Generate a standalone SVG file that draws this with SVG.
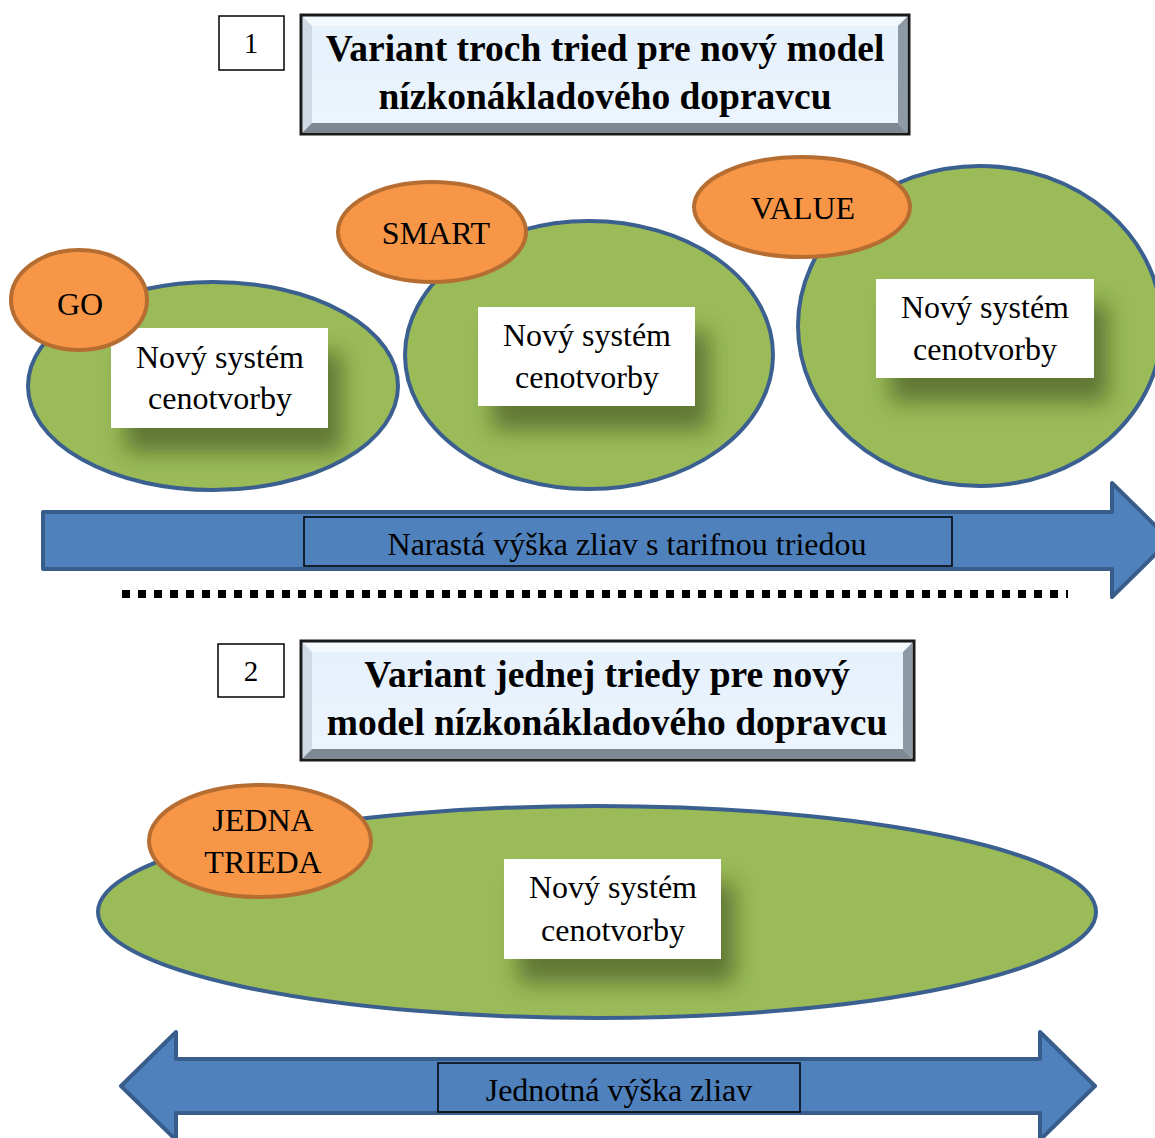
<svg xmlns="http://www.w3.org/2000/svg" width="1155" height="1138" viewBox="0 0 1155 1138">
<defs>
<style>
.t{font-family:"Liberation Serif","Times New Roman",serif;fill:#000}
.title{font-size:37.5px;font-weight:bold;text-anchor:middle}
.num{font-size:29px;text-anchor:middle}
.lbl{font-size:32px;text-anchor:middle}
.ctr{font-size:32px;text-anchor:middle}
.green{fill:#9bbb59;stroke:#3b5f8f;stroke-width:4}
.orange{fill:#f79646;stroke:#b66d31;stroke-width:4}
.wbox{fill:#fff}
.arrow{fill:#4f81bd;stroke:#385d8a;stroke-width:4;stroke-linejoin:round}
.abox{fill:none;stroke:#000;stroke-width:1.5}
.nbox{fill:#fff;stroke:#000;stroke-width:1.5}
</style>
<linearGradient id="tg" x1="0" y1="0" x2="0" y2="1">
<stop offset="0" stop-color="#e4f0fb"/>
<stop offset="1" stop-color="#edf5fd"/>
</linearGradient>
<filter id="sh" x="-30%" y="-30%" width="170%" height="190%">
<feGaussianBlur in="SourceAlpha" stdDeviation="11"/>
<feOffset dx="14" dy="24" result="b"/>
<feFlood flood-color="#2f3f14" flood-opacity="0.55"/>
<feComposite in2="b" operator="in" result="s"/>
<feMerge><feMergeNode in="s"/><feMergeNode in="SourceGraphic"/></feMerge>
</filter>
<clipPath id="c1"><ellipse cx="213" cy="386" rx="183" ry="102"/></clipPath>
<clipPath id="c2"><ellipse cx="589" cy="355" rx="182" ry="132"/></clipPath>
<clipPath id="c3"><ellipse cx="980" cy="326" rx="180" ry="158"/></clipPath>
<clipPath id="c4"><ellipse cx="597" cy="912" rx="497" ry="104"/></clipPath>
</defs>

<g id="title1">
<rect x="301" y="15" width="608" height="119" fill="url(#tg)" stroke="#1a1a1a" stroke-width="3"/>
<polygon points="303,17 907,17 898,26 312,26" fill="#f4f9fd"/>
<polygon points="303,17 312,26 312,123 303,132" fill="#cfd9e3"/>
<polygon points="907,17 907,132 898,123 898,26" fill="#8d99a5"/>
<polygon points="303,132 312,123 898,123 907,132" fill="#7d8893"/>
<text class="t title" x="605" y="61">Variant troch tried pre nový model</text>
<text class="t title" x="605" y="109">nízkonákladového dopravcu</text>
</g>
<g id="num1">
<rect class="nbox" x="219" y="16" width="65" height="54"/>
<text class="t num" x="251" y="53">1</text>
</g>

<g id="go">
<ellipse class="green" cx="213" cy="386" rx="185" ry="104"/>
<g clip-path="url(#c1)"><rect class="wbox" x="111" y="328" width="217" height="100" filter="url(#sh)"/></g>
<rect class="wbox" x="111" y="328" width="217" height="100"/>
<text class="t ctr" x="220" y="368">Nový systém</text>
<text class="t ctr" x="220" y="409">cenotvorby</text>
<ellipse class="orange" cx="79" cy="300" rx="68" ry="50"/>
<text class="t lbl" x="80" y="315">GO</text>
</g>

<g id="smart">
<ellipse class="green" cx="589" cy="355" rx="184" ry="134"/>
<g clip-path="url(#c2)"><rect class="wbox" x="478" y="307" width="217" height="99" filter="url(#sh)"/></g>
<rect class="wbox" x="478" y="307" width="217" height="99"/>
<text class="t ctr" x="587" y="346">Nový systém</text>
<text class="t ctr" x="587" y="388">cenotvorby</text>
<ellipse class="orange" cx="432" cy="232" rx="94" ry="50"/>
<text class="t lbl" x="436" y="244">SMART</text>
</g>

<g id="value">
<ellipse class="green" cx="980" cy="326" rx="182" ry="160"/>
<g clip-path="url(#c3)"><rect class="wbox" x="876" y="279" width="218" height="99" filter="url(#sh)"/></g>
<rect class="wbox" x="876" y="279" width="218" height="99"/>
<text class="t ctr" x="985" y="318">Nový systém</text>
<text class="t ctr" x="985" y="360">cenotvorby</text>
<ellipse class="orange" cx="802" cy="207" rx="108" ry="50"/>
<text class="t lbl" x="803" y="219">VALUE</text>
</g>

<g id="connectors">
<polygon class="arrow" points="43,512 1112,512 1112,483 1170,540 1112,597 1112,569 43,569"/>
<rect class="abox" x="304" y="517" width="648" height="49"/>
<text class="t lbl" x="627" y="555">Narastá výška zliav s tarifnou triedou</text>
<line x1="122" y1="594" x2="1068" y2="594" stroke="#000" stroke-width="8" stroke-dasharray="8 8"/>
<polygon class="arrow" points="121,1086 176,1032 176,1059 1040,1059 1040,1032 1095,1086 1040,1140 1040,1113 176,1113 176,1140"/>
<rect class="abox" x="438" y="1063" width="362" height="49"/>
<text class="t lbl" x="619" y="1101">Jednotná výška zliav</text>
</g>

<g id="title2">
<rect x="301" y="641" width="613" height="119" fill="url(#tg)" stroke="#1a1a1a" stroke-width="3"/>
<polygon points="303,643 912,643 903,652 312,652" fill="#f4f9fd"/>
<polygon points="303,643 312,652 312,749 303,758" fill="#cfd9e3"/>
<polygon points="912,643 912,758 903,749 903,652" fill="#8d99a5"/>
<polygon points="303,758 312,749 903,749 912,758" fill="#7d8893"/>
<text class="t title" x="607" y="687">Variant jednej triedy pre nový</text>
<text class="t title" x="607" y="735">model nízkonákladového dopravcu</text>
</g>
<g id="num2">
<rect class="nbox" x="218" y="644" width="66" height="53"/>
<text class="t num" x="251" y="681">2</text>
</g>

<g id="jedna">
<ellipse class="green" cx="597" cy="912" rx="499" ry="106"/>
<g clip-path="url(#c4)"><rect class="wbox" x="504" y="859" width="217" height="100" filter="url(#sh)"/></g>
<rect class="wbox" x="504" y="859" width="217" height="100"/>
<text class="t ctr" x="613" y="898">Nový systém</text>
<text class="t ctr" x="613" y="941">cenotvorby</text>
<ellipse class="orange" cx="260" cy="841" rx="111" ry="56"/>
<text class="t lbl" x="263" y="831">JEDNA</text>
<text class="t lbl" x="263" y="873">TRIEDA</text>
</g>
</svg>
